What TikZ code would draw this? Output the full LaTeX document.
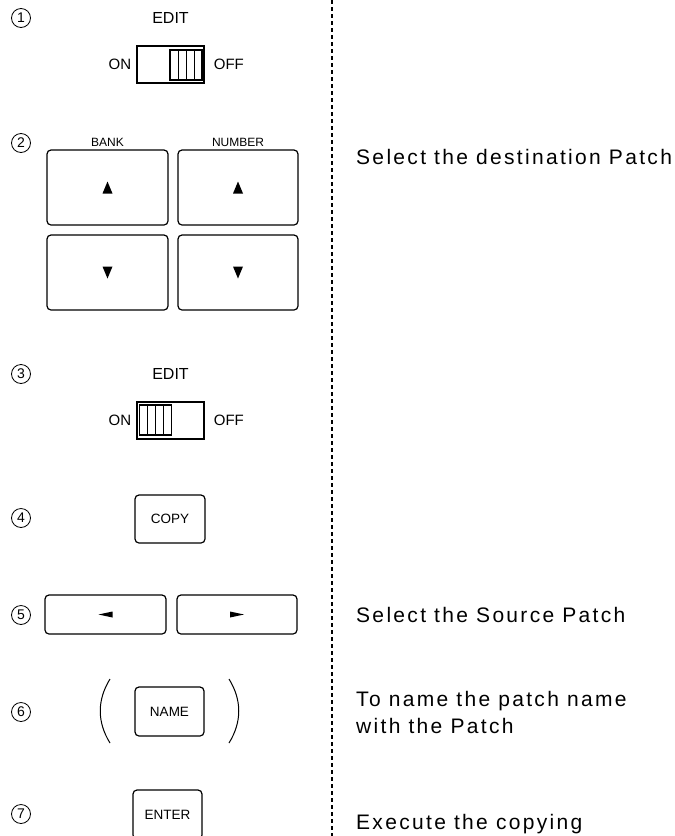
\documentclass[tikz,border=0pt]{standalone}
\usepackage{fontspec}
\setmainfont{Liberation Sans}
\newfontfamily\notefont[LetterSpace=11]{Liberation Sans}
\usetikzlibrary{positioning}

\tikzset{
  num/.style={circle,draw,line width=0.8pt,inner sep=0pt,minimum size=19pt,
    font=\fontsize{14}{14}\selectfont},
  key/.style={draw,rounded corners=4pt,line width=1.2pt},
  lbl/.style={inner sep=1pt,font=\fontsize{13.5}{13.5}\selectfont},
  swbox/.style={draw,line width=1.3pt,minimum width=67pt,minimum height=37pt},
  slider/.style={draw,line width=1.2pt,minimum width=32pt,minimum height=30pt},
  note/.style={inner sep=0pt,align=left,font=\notefont\fontsize{21}{27}\selectfont},
  sep/.style={line width=1.1pt,dash pattern=on 4pt off 3pt},
  uptri/.pic={\fill (-5,6) -- (5,6) -- (0,-6) -- cycle;},
  dntri/.pic={\fill (-5,-6) -- (5,-6) -- (0,6) -- cycle;},
  lftri/.pic={\fill (-7,0) -- (7,-3) -- (7,3) -- cycle;},
  rttri/.pic={\fill (7,0) -- (-7,-3) -- (-7,3) -- cycle;},
}

\begin{document}
\begin{tikzpicture}[x=1pt,y=-1pt]
  \useasboundingbox (0,0) rectangle (675,836);

  % step numbers
  \node[num] (n1) at (21,18)  {1};
  \node[num] (n2) at (21,143) {2};
  \node[num] (n3) at (21,374) {3};
  \node[num] (n4) at (21,518) {4};
  \node[num] (n5) at (21,615) {5};
  \node[num] (n6) at (21,712) {6};
  \node[num] (n7) at (21,814) {7};

  % divider
  \coordinate (septop) at (332,0);
  \coordinate (sepbot) at (332,836);
  \draw[sep] (septop) -- (sepbot);

  % 1: edit switch off
  \node[swbox] (sw1) at (170.5,64.5) {};
  \node[slider] (sl1) at (186,65) {};
  \foreach \dx in {-8,0,8}
    \draw[line width=0.8pt] ([xshift=\dx pt]sl1.north) -- ([xshift=\dx pt]sl1.south);
  \node[lbl,above=21pt of sw1,font=\fontsize{16}{16}\selectfont] (edit1) {EDIT};
  \node[lbl,left=4pt of sw1,font=\fontsize{15}{15}\selectfont] (on1) {ON};
  \node[lbl,right=8pt of sw1,font=\fontsize{15}{15}\selectfont] (off1) {OFF};

  % 2: bank / number keys
  \node[key,minimum width=121pt,minimum height=75pt] (bankup) at (107.5,187.5) {};
  \node[key,minimum width=120pt,minimum height=75pt] (numup)  at (238,187.5) {};
  \node[key,minimum width=121pt,minimum height=75pt] (bankdn) at (107.5,272.5) {};
  \node[key,minimum width=120pt,minimum height=75pt] (numdn)  at (238,272.5) {};
  \pic at (bankup) {uptri};
  \pic at (numup)  {uptri};
  \pic at (bankdn) {dntri};
  \pic at (numdn)  {dntri};
  \node[lbl,above=2pt of bankup,font=\fontsize{12}{12}\selectfont] (bank) {BANK};
  \node[lbl,above=2pt of numup,font=\fontsize{12}{12}\selectfont] (number) {NUMBER};
  \node[note,anchor=base west] (dest) at (356,164) {Select the destination Patch};

  % 3: edit switch on
  \node[swbox] (sw3) at (170.5,420.5) {};
  \node[slider] (sl3) at (155.5,420) {};
  \foreach \dx in {-8,0,8}
    \draw[line width=0.8pt] ([xshift=\dx pt]sl3.north) -- ([xshift=\dx pt]sl3.south);
  \node[lbl,above=21pt of sw3,font=\fontsize{16}{16}\selectfont] (edit3) {EDIT};
  \node[lbl,left=4pt of sw3,font=\fontsize{15}{15}\selectfont] (on3) {ON};
  \node[lbl,right=8pt of sw3,font=\fontsize{15}{15}\selectfont] (off3) {OFF};

  % 4: copy
  \node[key,lbl,minimum width=70pt,minimum height=48pt] (copy) at (170,519) {COPY};

  % 5: cursor keys
  \node[key,minimum width=121pt,minimum height=39pt] (curl) at (105.5,614.5) {};
  \node[key,minimum width=120pt,minimum height=39pt] (curr) at (237,614.5) {};
  \pic at (curl) {lftri};
  \pic at (curr) {rttri};
  \node[note,anchor=base west] (src) at (356,622) {Select the Source Patch};

  % 6: name (optional)
  \node[key,lbl,minimum width=69pt,minimum height=49pt] (name) at (169.5,711.5) {NAME};
  \draw[line width=1pt] (110,679) .. controls (97,700) and (97,722) .. (110,743);
  \draw[line width=1pt] (229,679) .. controls (242,700) and (242,722) .. (229,743);
  \node[note,anchor=west] (nm) at (356,712.5) {To name the patch name\\with the Patch};

  % 7: enter
  \node[key,lbl,minimum width=69pt,minimum height=49pt] (enter) at (167.5,814.5) {ENTER};
  \node[note,anchor=base west] (exe) at (356,829) {Execute the copying};

\end{tikzpicture}
\end{document}
